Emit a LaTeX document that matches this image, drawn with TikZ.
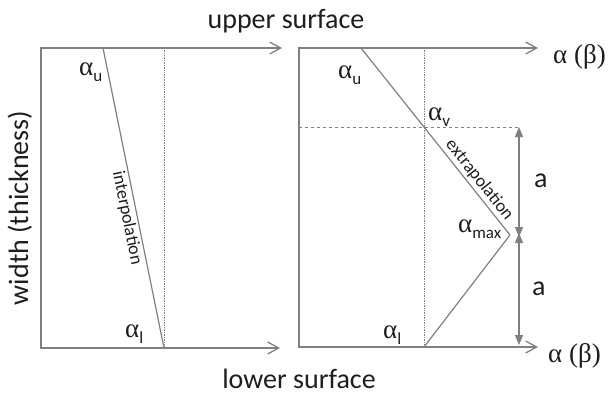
\documentclass[tikz,border=0pt]{standalone}
\usepackage{fontspec}
\setmainfont{Carlito}
\newfontfamily\grk{Liberation Serif}
\usetikzlibrary{arrows.meta}
\definecolor{linegray}{RGB}{128,128,128}
\definecolor{txtgray}{RGB}{30,30,30}
\newcommand{\alsub}[1]{{\grk α}\raisebox{-6pt}{\fontsize{17}{17}\selectfont #1}}

\begin{document}
\begin{tikzpicture}[x=1pt, y=-1pt,
  axisline/.style={draw=linegray, line width=1.3pt,
    {Straight Barb[length=11pt,width=12pt]}-{Straight Barb[length=11pt,width=12pt]}},
  profile/.style={draw=linegray, line width=1.2pt},
  guide/.style={draw=linegray, densely dotted, line width=0.7pt},
  cutline/.style={draw=linegray, dashed, line width=0.8pt},
  dimline/.style={draw=linegray, line width=1.2pt,
    {Triangle[length=10pt,width=8pt]}-{Triangle[length=10pt,width=8pt]}},
  big/.style={font=\fontsize{28}{30}\selectfont, text=txtgray, inner sep=0pt},
  greek/.style={font=\fontsize{27}{28}\selectfont, text=txtgray, inner sep=0pt, anchor=base west},
  small/.style={font=\fontsize{18}{20}\selectfont, text=txtgray}]
\useasboundingbox (0,0) rectangle (611,394);

% left panel: interpolation
\coordinate (lt) at (41,48);
\coordinate (lb) at (41,348);
\coordinate (lte) at (282,48);
\coordinate (lbe) at (280,348);
\coordinate (lu) at (103,48);
\coordinate (ll) at (164,348);
\coordinate (ldt) at (164,48);
\draw[axisline] (lte) -- (lt) -- (lb) -- (lbe);
\draw[guide] (ldt) -- (ll);
\draw[profile] (lu) -- (ll) node[pos=0.56, sloped, below, small, inner sep=2pt] {interpolation};
\node[greek] (lalu) at (79,75) {\alsub{u}};
\node[greek] (lall) at (125,337) {\alsub{l}};

% right panel: extrapolation
\coordinate (rt) at (299,48);
\coordinate (rb) at (299,347);
\coordinate (rte) at (538,48);
\coordinate (rbe) at (538,347);
\coordinate (ru) at (361,48);
\coordinate (rv) at (424,127);
\coordinate (rm) at (510,235);
\coordinate (rl) at (424,347);
\coordinate (rdt) at (424,48);
\coordinate (rcl) at (299,127);
\coordinate (rcr) at (520,127);
\coordinate (ma) at (519,127);
\coordinate (mb) at (519,235);
\coordinate (mc) at (519,345);
\draw[axisline] (rte) -- (rt) -- (rb) -- (rbe);
\draw[guide] (rdt) -- (rl);
\draw[cutline] (rcl) -- (rcr);
\draw[profile] (ru) -- (rv);
\draw[profile] (rv) -- (rm) node[pos=0.55, sloped, above, small, inner sep=2pt] {extrapolation};
\draw[profile] (rm) -- (rl);
\draw[dimline] (ma) -- ([yshift=-2pt]mb);
\draw[dimline] ([yshift=2pt]mb) -- (mc);
\node[greek] (ralu) at (338,78) {\alsub{u}};
\node[greek] (ralv) at (428,120) {\alsub{v}};
\node[greek] (ralm) at (458,232) {\alsub{max}};
\node[greek] (rall) at (383,338) {\alsub{l}};
\node[big, anchor=base west] (da) at (534,187) {a};
\node[big, anchor=base west] (db) at (532,295) {a};
\node[greek, font=\fontsize{27}{28}\selectfont\grk] (ab1) at (553,63) {α (β)};
\node[greek, font=\fontsize{27}{28}\selectfont\grk] (ab2) at (548,362) {α (β)};

% axis titles
\node[big, anchor=base] (upper) at (286,28) {upper surface};
\node[big, anchor=base] (lower) at (299,388) {lower surface};
\node[big, anchor=base, rotate=90] (width) at (28,208) {width (thickness)};
\end{tikzpicture}
\end{document}
